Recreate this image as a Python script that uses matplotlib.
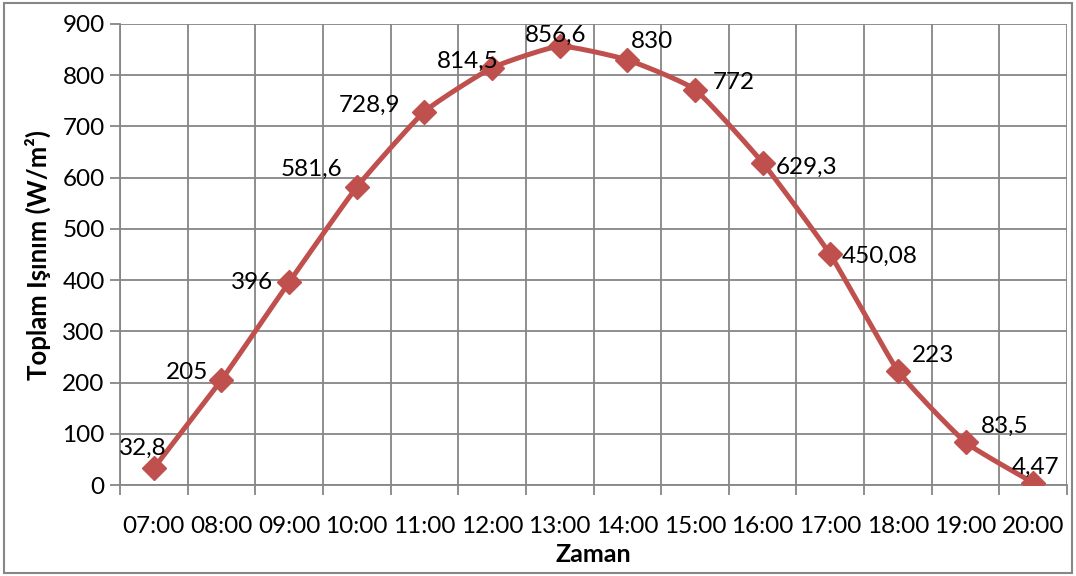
import numpy as np
import matplotlib
matplotlib.use("Agg")
import matplotlib.pyplot as plt
from matplotlib.patches import Rectangle

categories = ["07:00", "08:00", "09:00", "10:00", "11:00", "12:00", "13:00",
              "14:00", "15:00", "16:00", "17:00", "18:00", "19:00", "20:00"]
values = [32.8, 205, 396, 581.6, 728.9, 814.5, 856.6, 830, 772, 629.3, 450.08, 223, 83.5, 4.47]
labels = ["32,8", "205", "396", "581,6", "728,9", "814,5", "856,6", "830", "772",
          "629,3", "450,08", "223", "83,5", "4,47"]
# label offsets in pixels (style)
label_offsets = [(-11, 20), (-34, 7), (-37, 0), (-45, 18), (-55, 6), (-24, 6), (-4, 11),
                 (25, 18), (39, 7), (44, -5), (49, -2), (35, 15), (39, 16), (2, 15)]

plt.rcParams['font.family'] = ['Lato', 'DejaVu Sans']

fig = plt.figure(figsize=(10.76, 5.76), dpi=100)
ax = fig.add_axes([120/1076, 1-485/576, (1067-120)/1076, (485-24)/576])

x = np.arange(len(values), dtype=float)
y = np.array(values, dtype=float)

# smooth curve (cardinal spline with moderate tension) in scaled space
sx, sy = 67.6, 461/900
P = np.column_stack([x*sx, y*sy])
pts = [P[0]] + list(P) + [P[-1]]
curve = []
t = np.linspace(0, 1, 30)
tension = 0.45
for i in range(1, len(pts)-2):
    p0, p1, p2, p3 = pts[i-1], pts[i], pts[i+1], pts[i+2]
    m1 = (p2 - p0) / 2 * tension
    m2 = (p3 - p1) / 2 * tension
    for tt in (t[:-1] if i < len(pts)-3 else t):
        h00 = 2*tt**3 - 3*tt**2 + 1
        h10 = tt**3 - 2*tt**2 + tt
        h01 = -2*tt**3 + 3*tt**2
        h11 = tt**3 - tt**2
        curve.append(h00*p1 + h10*m1 + h01*p2 + h11*m2)
curve = np.array(curve)
ax.plot(curve[:, 0]/sx, curve[:, 1]/sy, color="#C0504D", lw=3.6, zorder=3,
        solid_capstyle='round', solid_joinstyle='round')
ax.plot(x, y, linestyle='none', marker='D', markersize=12.5, color="#C0504D", zorder=4)

for xi, yi, lab, (dx, dy) in zip(x, y, labels, label_offsets):
    ax.annotate(lab, (xi, yi), xytext=(dx, dy), textcoords='offset pixels',
                ha='center', va='center', fontsize=17.5, color='black', zorder=5)

grid_c = "#868686"
ax.set_xlim(-0.5, len(values)-0.5)
ax.set_ylim(0, 900)
ax.set_yticks(np.arange(0, 901, 100))
ax.set_xticks(x)
ax.set_xticklabels(categories)
ax.set_xticks(np.arange(-0.5, len(values), 1.0), minor=True)
ax.tick_params(axis='x', which='major', length=0, pad=22, labelsize=17.5)
ax.tick_params(axis='x', which='minor', length=7, width=1.3, color=grid_c)
ax.tick_params(axis='y', which='major', length=7, width=1.3, color=grid_c, labelsize=17.5, pad=4)
ax.grid(True, which='major', axis='y', color=grid_c, lw=1.3)
ax.grid(True, which='minor', axis='x', color=grid_c, lw=1.3)
ax.set_axisbelow(True)
for s in ['top', 'right']:
    ax.spines[s].set_visible(False)
for s in ['left', 'bottom']:
    ax.spines[s].set_color(grid_c)
    ax.spines[s].set_linewidth(1.3)

ax.set_ylabel("Toplam Işınım (W/m²)", fontsize=18.5, fontweight='bold', labelpad=8)
ax.set_xlabel("Zaman", fontsize=18, fontweight='bold', labelpad=5)

fig.patches.append(Rectangle((4/1076, 3/576), 1068/1076, 570/576, transform=fig.transFigure,
                             fill=False, edgecolor="#878787", lw=1.5))
fig.savefig("out.png", dpi=100)
